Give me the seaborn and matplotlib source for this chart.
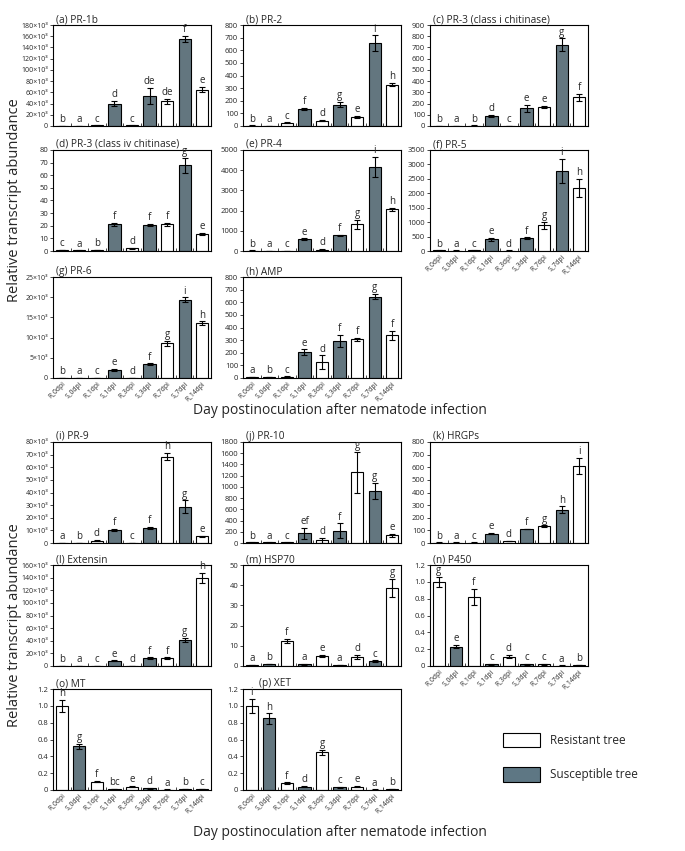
import matplotlib
matplotlib.use('Agg')
import matplotlib.pyplot as plt
from matplotlib.patches import Patch
from matplotlib.ticker import FuncFormatter, MultipleLocator
import seaborn as sns
import pandas as pd

sns.set_style('white')
plt.rcParams['font.family'] = ['Open Sans', 'DejaVu Sans']

# sampling points (R = resistant, S = susceptible)
days = ['R_0dpi', 'S_0dpi', 'R_1dpi', 'S_1dpi', 'R_3dpi', 'S_3dpi', 'R_7dpi', 'S_7dpi', 'R_14dpi']

# (a) PR-1b
a_mean = [500, 200, 1000, 40000, 1000, 54000, 44000, 155000, 65000]
a_err = [100, 50, 150, 5000, 150, 14000, 5000, 6000, 4000]
a_sig = ['b', 'a', 'c', 'd', 'c', 'de', 'de', 'f', 'e']
# (b) PR-2
b_mean = [3, 2, 26, 136, 42, 168, 74, 655, 328]
b_err = [1, 1, 2, 8, 5, 20, 8, 62, 15]
b_sig = ['b', 'a', 'c', 'f', 'd', 'g', 'e', 'i', 'h']
# (c) PR-3 (class i chitinase)
c_mean = [3, 2, 4, 89, 3, 158, 170, 723, 256]
c_err = [1, 1, 1, 10, 1, 33, 12, 57, 30]
c_sig = ['b', 'a', 'b', 'd', 'c', 'e', 'e', 'g', 'f']
# (d) PR-3 (class iv chitinase)
d_mean = [1.0, 0.4, 0.5, 21, 2.0, 20.5, 21, 68, 13.5]
d_err = [0.1, 0.05, 0.05, 1.5, 0.3, 1.0, 1.2, 6, 0.7]
d_sig = ['c', 'a', 'b', 'f', 'd', 'f', 'f', 'g', 'e']
# (e) PR-4
e_mean = [20, 10, 15, 580, 70, 780, 1320, 4140, 2060]
e_err = [5, 3, 4, 40, 30, 30, 220, 500, 70]
e_sig = ['b', 'a', 'c', 'e', 'd', 'f', 'g', 'i', 'h']
# (f) PR-5
f_mean = [20, 15, 20, 400, 15, 448, 884, 2780, 2180]
f_err = [3, 3, 3, 40, 3, 20, 120, 420, 310]
f_sig = ['b', 'a', 'c', 'e', 'd', 'f', 'g', 'i', 'h']
# (g) PR-6
g_mean = [100, 100, 100, 2040, 100, 3430, 8570, 19430, 13630]
g_err = [20, 20, 20, 300, 20, 200, 700, 500, 400]
g_sig = ['b', 'a', 'c', 'e', 'd', 'f', 'g', 'i', 'h']
# (h) AMP
h_mean = [5, 5, 10, 205, 124, 295, 305, 645, 337]
h_err = [1, 1, 2, 22, 55, 48, 15, 20, 35]
h_sig = ['a', 'b', 'c', 'e', 'd', 'f', 'f', 'g', 'f']
# (i) PR-9
i_mean = [300, 300, 1900, 10470, 300, 12080, 68500, 28700, 5370]
i_err = [50, 50, 300, 800, 50, 800, 2700, 5000, 400]
i_sig = ['a', 'b', 'd', 'f', 'c', 'f', 'h', 'g', 'e']
# (j) PR-10
j_mean = [10, 10, 10, 172, 47, 220, 1258, 926, 137]
j_err = [2, 2, 2, 95, 45, 130, 360, 150, 30]
j_sig = ['b', 'a', 'c', 'ef', 'd', 'f', 'g', 'g', 'e']
# (k) HRGPs
k_mean = [3, 3, 3, 74, 16, 111, 132, 265, 612]
k_err = [1, 1, 1, 5, 2, 3, 8, 25, 65]
k_sig = ['b', 'a', 'c', 'e', 'd', 'f', 'g', 'h', 'i']
# (l) Extensin
l_mean = [500, 300, 300, 8400, 500, 12100, 12600, 41600, 139500]
l_err = [50, 30, 30, 500, 50, 1500, 1000, 3000, 8000]
l_sig = ['b', 'a', 'c', 'e', 'd', 'f', 'f', 'g', 'h']
# (m) HSP70
m_mean = [0.5, 1.0, 12.5, 0.8, 5.0, 0.5, 4.5, 2.5, 38.5]
m_err = [0.05, 0.1, 1.0, 0.1, 0.3, 0.05, 0.8, 0.3, 4.5]
m_sig = ['a', 'b', 'f', 'a', 'e', 'a', 'd', 'c', 'g']
# (n) P450
n_mean = [1.0, 0.23, 0.82, 0.02, 0.11, 0.02, 0.02, 0.005, 0.01]
n_err = [0.06, 0.02, 0.1, 0.003, 0.02, 0.003, 0.003, 0.001, 0.002]
n_sig = ['g', 'e', 'f', 'c', 'd', 'c', 'c', 'a', 'b']
# (o) MT
o_mean = [1.0, 0.52, 0.1, 0.01, 0.04, 0.02, 0.005, 0.008, 0.015]
o_err = [0.07, 0.03, 0.01, 0.002, 0.005, 0.003, 0.001, 0.001, 0.002]
o_sig = ['h', 'g', 'f', 'bc', 'e', 'd', 'a', 'b', 'c']
# (p) XET
p_mean = [1.0, 0.85, 0.08, 0.04, 0.45, 0.03, 0.04, 0.005, 0.01]
p_err = [0.08, 0.06, 0.01, 0.005, 0.03, 0.004, 0.005, 0.001, 0.002]
p_sig = ['i', 'h', 'f', 'd', 'g', 'c', 'e', 'a', 'b']

titles = ['(a) PR-1b', '(b) PR-2', '(c) PR-3 (class i chitinase)', '(d) PR-3 (class iv chitinase)',
          '(e) PR-4', '(f) PR-5', '(g) PR-6', '(h) AMP', '(i) PR-9', '(j) PR-10', '(k) HRGPs',
          '(l) Extensin', '(m) HSP70', '(n) P450', '(o) MT', '(p) XET']
means = [a_mean, b_mean, c_mean, d_mean, e_mean, f_mean, g_mean, h_mean,
         i_mean, j_mean, k_mean, l_mean, m_mean, n_mean, o_mean, p_mean]
errs = [a_err, b_err, c_err, d_err, e_err, f_err, g_err, h_err,
        i_err, j_err, k_err, l_err, m_err, n_err, o_err, p_err]
sigs = [a_sig, b_sig, c_sig, d_sig, e_sig, f_sig, g_sig, h_sig,
        i_sig, j_sig, k_sig, l_sig, m_sig, n_sig, o_sig, p_sig]
y_max = [180e3, 800, 900, 80, 5000, 3500, 25e3, 800, 80e3, 1800, 800, 160e3, 50, 1.2, 1.2, 1.2]
y_step = [20e3, 100, 100, 10, 1000, 500, 5e3, 100, 10e3, 200, 100, 20e3, 10, 0.2, 0.2, 0.2]

dark = '#5e7784'
pal = {d: ('white' if d.startswith('R') else dark) for d in days}

W, H = 685, 851
fig = plt.figure(figsize=(W / 100, H / 100), dpi=100)

col_x = [53, 243, 430]
row_y = [25, 150, 277, 442, 565, 689]
grid = [(0, 0), (0, 1), (0, 2), (1, 0), (1, 1), (1, 2), (2, 0), (2, 1),
        (3, 0), (3, 1), (3, 2), (4, 0), (4, 1), (4, 2), (5, 0), (5, 1)]
with_labels = {5, 6, 7, 13, 14, 15}
aw, ah = 158, 101


def kfmt(v, pos):
    if v == 0:
        return '0'
    return '%d×10³' % round(v / 1000)


def dfmt(v, pos):
    if abs(v) < 1e-9:
        return '0'
    return '%.1f' % v


for n in range(16):
    r, c = grid[n]
    x0, y0 = col_x[c], row_y[r]
    ax = fig.add_axes([x0 / W, 1 - (y0 + ah) / H, aw / W, ah / H])
    df = pd.DataFrame({'day': days, 'val': means[n]})
    sns.barplot(data=df, x='day', y='val', hue='day', palette=pal, legend=False,
                width=0.7, edgecolor='black', linewidth=0.8, errorbar=None, ax=ax)
    ax.errorbar(range(9), means[n], yerr=errs[n], fmt='none', ecolor='black',
                elinewidth=0.8, capsize=2, capthick=0.8)
    top = y_max[n]
    for i in range(9):
        ax.text(i, means[n][i] + errs[n][i] + top * 0.008, sigs[n][i],
                ha='center', va='bottom', fontsize=7)
    ax.set_ylim(0, top)
    ax.set_xlim(-0.5, 8.5)
    ax.yaxis.set_major_locator(MultipleLocator(y_step[n]))
    if top >= 20e3:
        ax.yaxis.set_major_formatter(FuncFormatter(kfmt))
        ysize = 5
    elif top < 2:
        ax.yaxis.set_major_formatter(FuncFormatter(dfmt))
        ysize = 5.5
    else:
        ysize = 5.5
    ax.tick_params(axis='y', labelsize=ysize, length=2, width=0.6, direction='out', left=True, pad=1.5)
    ax.set_xticks([i + 0.5 for i in range(8)], minor=True)
    ax.tick_params(axis='x', which='minor', length=2, width=0.6, direction='in', bottom=True)
    if n in with_labels:
        ax.set_xticks(range(9))
        ax.set_xticklabels(days, rotation=45, ha='right', rotation_mode='anchor', fontsize=4.8)
        ax.tick_params(axis='x', which='major', length=0, pad=2)
    else:
        ax.set_xticks([])
    ax.set_xlabel('')
    ax.set_ylabel('')
    for s in ax.spines.values():
        s.set_visible(True)
        s.set_color('black')
        s.set_linewidth(0.8)
    # (p) title sits a little to the right, clear of the letter above the first bar
    ax.set_title(titles[n], loc='left', fontsize=7.3, pad=2, x=0.1 if n == 15 else 0.02)

# shared axis labels
for yc in [200, 625]:
    fig.text(15 / W, 1 - yc / H, 'Relative transcript abundance', rotation=90,
             ha='center', va='center', fontsize=10.5)
for yc in [410, 832]:
    fig.text(340 / W, 1 - yc / H, 'Day postinoculation after nematode infection',
             ha='center', va='center', fontsize=10)

fig.legend(handles=[Patch(facecolor='white', edgecolor='black', linewidth=0.8),
                    Patch(facecolor=dark, edgecolor='black', linewidth=0.8)],
           labels=['Resistant tree', 'Susceptible tree'], loc='upper left',
           bbox_to_anchor=(492 / W, 1 - 722 / H), frameon=False, handlelength=3.2,
           handleheight=1.5, labelspacing=1.7, fontsize=8.5)

fig.savefig('out.png', dpi=100)
